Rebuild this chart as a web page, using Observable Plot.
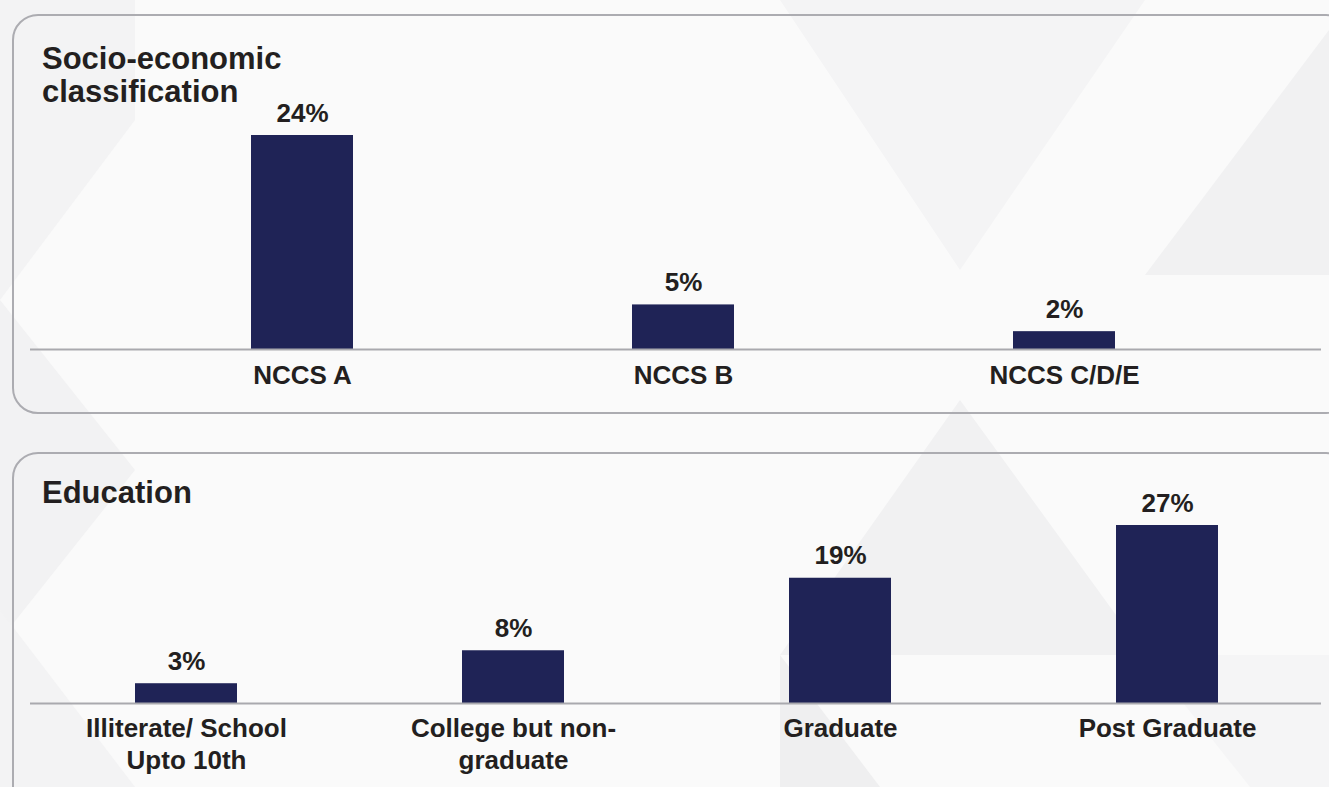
<!DOCTYPE html>
<html>
<head>
<meta charset="utf-8">
<script src="https://cdn.jsdelivr.net/npm/d3@7"></script>
<script src="https://cdn.jsdelivr.net/npm/@observablehq/plot@0.6"></script>
<style>
  html, body { margin: 0; padding: 0; }
  body { width: 1329px; height: 787px; overflow: hidden; position: relative; background: #fafafa; font-family: "Liberation Sans", Arial, sans-serif; }
  #bg { position: absolute; left: 0; top: 0; }
  .panel { position: absolute; left: 12px; width: 1340px; border: 2px solid #acacb1; border-radius: 26px; box-sizing: border-box; }
  .title { position: absolute; left: 42px; font-size: 31px; line-height: 33px; font-weight: bold; color: #231f20; }
  .chart { position: absolute; left: 0; }
</style>
</head>
<body>
<svg id="bg" width="1329" height="787">
  <polygon points="0,0 135,0 135,120 0,300" fill="#f3f3f4"/>
  <polygon points="0,300 135,470 0,640" fill="#f2f2f3"/>
  <polygon points="780,0 1145,0 960,270" fill="#f4f4f5"/>
  <polygon points="1145,275 1329,30 1329,275" fill="#f1f1f2"/>
  <polygon points="960,400 1145,655 780,655" fill="#f1f1f2"/>
  <polygon points="780,655 780,787 880,787" fill="#efeff0"/>
  <polygon points="0,610 135,787 0,787" fill="#f3f3f4"/>
  <polygon points="1145,655 1329,655 1329,787 1250,787" fill="#f5f5f6"/>
</svg>
<div class="panel" style="top:14px;height:400px;"></div>
<div class="panel" style="top:452px;height:400px;"></div>
<div class="title" style="top:42px;">Socio-economic<br>classification</div>
<div class="title" style="top:476px;">Education</div>
<div id="c1" class="chart" style="top:0px;"></div>
<div id="c2" class="chart" style="top:430px;"></div>
<script>
// ---- data ----
const secCategories = ["NCCS A", "NCCS B", "NCCS C/D/E"];
const secValues = [24, 5, 2];
const secLabels = ["24%", "5%", "2%"];

const eduCategories = ["Illiterate/ School Upto 10th", "College but non-graduate", "Graduate", "Post Graduate"];
const eduValues = [3, 8, 19, 27];
const eduLabels = ["3%", "8%", "19%", "27%"];
const eduTickLabels = ["Illiterate/ School\nUpto 10th", "College but non-\ngraduate", "Graduate", "Post Graduate"];

// ---- style ----
const barColor = "#1f2356";
const textColor = "#231f20";
const ruleColor = "#a9a9ae";
const font = "'Liberation Sans', Arial, sans-serif";

const secData = secCategories.map((c, i) => ({category: c, value: secValues[i], label: secLabels[i]}));
const eduData = eduCategories.map((c, i) => ({category: c, value: eduValues[i], label: eduLabels[i], tick: eduTickLabels[i]}));

function barChart({data, height, baseline, top, xRange, yMax, padding, tickPadding, tickFormat}) {
  return Plot.plot({
    width: 1329,
    height,
    marginLeft: 30,
    marginRight: 8,
    marginTop: top,
    marginBottom: height - baseline,
    style: {background: "transparent", fontFamily: font, overflow: "visible"},
    x: {type: "band", domain: data.map(d => d.category), range: xRange, paddingInner: padding, paddingOuter: padding / 2, axis: null},
    y: {domain: [0, yMax], axis: null},
    marks: [
      Plot.barY(data, {x: "category", y: "value", fill: barColor}),
      Plot.ruleY([0], {stroke: ruleColor, strokeWidth: 2}),
      Plot.text(data, {x: "category", y: "value", text: "label", lineAnchor: "bottom", dy: -14, fontSize: 26, fontWeight: "bold", fill: textColor}),
      Plot.axisX({tickSize: 0, tickPadding, fontSize: 26, fontWeight: "bold", fill: textColor, lineHeight: 1.23, tickFormat, label: null})
    ]
  });
}

document.getElementById("c1").appendChild(barChart({
  data: secData,
  height: 430,
  baseline: 349,
  top: 135,
  xRange: [111.5, 1254.5],
  yMax: 24,
  padding: 0.732,
  tickPadding: 12,
  tickFormat: d => d
}));

const tickMap = new Map(eduData.map(d => [d.category, d.tick]));
document.getElementById("c2").appendChild(barChart({
  data: eduData,
  height: 357,
  baseline: 273,
  top: 95,
  xRange: [22.3, 1331.7],
  yMax: 27,
  padding: 0.688,
  tickPadding: 11,
  tickFormat: d => tickMap.get(d)
}));
</script>
</body>
</html>
